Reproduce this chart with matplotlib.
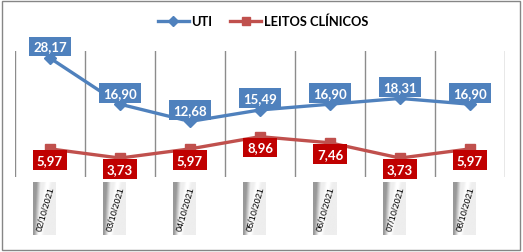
import matplotlib
matplotlib.use("Agg")
import matplotlib.pyplot as plt
import numpy as np
from matplotlib.patches import Rectangle

dates = ["02/10/2021", "03/10/2021", "04/10/2021", "05/10/2021",
         "06/10/2021", "07/10/2021", "08/10/2021"]
uti = [28.17, 16.90, 12.68, 15.49, 16.90, 18.31, 16.90]
leitos = [5.97, 3.73, 5.97, 8.96, 7.46, 3.73, 5.97]

W, H = 523, 253
fig = plt.figure(figsize=(W / 100, H / 100), dpi=100)
fig.patch.set_facecolor("white")

def fx(px):
    return px / W

def fy(py):
    return 1 - py / H

ax = fig.add_axes([fx(15), fy(178), fx(505) - fx(15), fy(52) - fy(178)])
ax.set_xlim(-0.5, 6.5)
ax.set_ylim(-0.9, 29.9)
for s in ax.spines.values():
    s.set_visible(False)
ax.set_xticks([])
ax.set_yticks([])
for b in np.arange(-0.5, 7.0, 1.0):
    ax.axvline(b, color="#8c8c8c", lw=1.0, zorder=0)

x = np.arange(len(dates))
blue_line = "#4F81BD"
red_line = "#C0504D"
l1, = ax.plot(x, uti, color=blue_line, lw=2.4, marker="D", ms=6, label="UTI", zorder=3)
l2, = ax.plot(x, leitos, color=red_line, lw=2.4, marker="s", ms=7, label="LEITOS CLÍNICOS", zorder=3)

font = "Lato"
for xi, v in zip(x, uti):
    ax.annotate(f"{v:.2f}".replace(".", ","), (xi, v), xytext=(0, 4), textcoords="offset points",
                ha="center", va="bottom", color="white", fontsize=9.5, fontweight="bold",
                family=font, zorder=5,
                bbox=dict(boxstyle="square,pad=0.3", fc="#4F81BD", ec="none"))
for xi, v in zip(x, leitos):
    ax.annotate(f"{v:.2f}".replace(".", ","), (xi, v), xytext=(0, -3.5), textcoords="offset points",
                ha="center", va="top", color="white", fontsize=9.5, fontweight="bold",
                family=font, zorder=5,
                bbox=dict(boxstyle="square,pad=0.3", fc="#C00000", ec="none"))

# gradient tick label boxes
nh, nw = 60, 30
u = np.linspace(0, 1, nw)[None, :]
v = np.linspace(1, 0, nh)[:, None]
base = np.clip(0.6 + 1.8 * (u - 0.03 - 0.12 * v), 0.6, 0.93)
band = 0.08 * np.exp(-((u - (0.3 + 0.35 * v)) / 0.12) ** 2)
grad = np.clip(base + band, 0, 1)
for i, d in enumerate(dates):
    cx = 50 + 70 * i - 6
    bx = fig.add_axes([fx(cx - 11.5), fy(236), fx(23), fy(183) - fy(236)])
    bx.imshow(grad, cmap="gray", vmin=0, vmax=1, aspect="auto", extent=(0, 1, 0, 1))
    bx.set_axis_off()
    bx.text(0.55, 0.5, d, rotation=74, ha="center", va="center", fontsize=6.6,
            family="Liberation Sans", color="black", transform=bx.transAxes)

leg = fig.legend(handles=[l1, l2], loc="center", bbox_to_anchor=(fx(263), fy(22)),
                 ncol=2, frameon=False, prop=dict(family=font, weight="bold", size=9.3),
                 handlelength=2.4, columnspacing=1.4, handletextpad=0.2, markerscale=0.85)

fig.patches.append(Rectangle((fx(1.5), fy(251)), fx(520) - fx(1.5), fy(1.5) - fy(251),
                             transform=fig.transFigure, fill=False, ec="#868686", lw=1.0))

fig.savefig("out.png", dpi=100)
